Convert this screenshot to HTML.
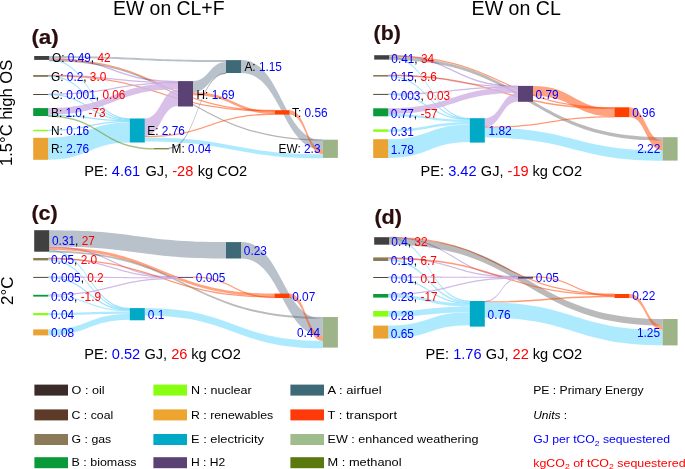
<!DOCTYPE html>
<html><head><meta charset="utf-8"><style>
html,body{margin:0;padding:0;background:#fff;}
body{width:685px;height:469px;overflow:hidden;}
svg{display:block;font-family:"Liberation Sans",sans-serif;will-change:transform;}
</style></head><body>
<svg width="685" height="469" viewBox="0 0 685 469">
<text x="113" y="15.1" font-size="19.4">EW on CL+F</text>
<text x="471.6" y="14.6" font-size="19.6">EW on CL</text>
<text transform="translate(12,166) rotate(-90)" font-size="16.6">1.5°C high OS</text>
<text transform="translate(12.5,305) rotate(-90)" font-size="17">2°C</text>
<g font-weight="bold" font-size="20" fill="#2b0d0d" stroke="#2b0d0d" stroke-width="0.2">
<text x="31.4" y="43.5" textLength="27.4" lengthAdjust="spacingAndGlyphs">(a)</text>
<text x="373.6" y="40.4" textLength="27.2" lengthAdjust="spacingAndGlyphs">(b)</text>
<text x="31.4" y="219.9" textLength="26.4" lengthAdjust="spacingAndGlyphs">(c)</text>
<text x="374.4" y="223.9" textLength="27.6" lengthAdjust="spacingAndGlyphs">(d)</text>
</g>
<path d="M49.20,56.00C137.60,56.00 137.60,60.10 226.00,60.10L226.00,62.10C137.60,62.10 137.60,58.00 49.20,58.00Z" fill="rgba(80,100,122,0.40)"/>
<path d="M49.20,57.85C113.60,57.85 113.60,80.95 178.00,80.95L178.00,82.25C113.60,82.25 113.60,59.15 49.20,59.15Z" fill="rgba(200,170,226,0.85)"/>
<path d="M49.20,58.65C161.90,58.65 161.90,109.85 274.60,109.85L274.60,111.15C161.90,111.15 161.90,59.95 49.20,59.95Z" fill="rgba(255,69,0,0.55)"/>
<path d="M49.20,59.30C89.50,59.30 89.50,118.20 129.80,118.20L129.80,119.50C89.50,119.50 89.50,60.60 49.20,60.60Z" fill="rgba(140,222,252,0.85)"/>
<path d="M49.20,59.90C186.05,59.90 186.05,139.30 322.90,139.30L322.90,140.60C186.05,140.60 186.05,61.20 49.20,61.20Z" fill="rgba(0,0,0,0.30)"/>
<path d="M48.20,74.65C113.10,74.65 113.10,81.75 178.00,81.75L178.00,83.05C113.10,83.05 113.10,75.95 48.20,75.95Z" fill="rgba(200,170,226,0.85)"/>
<path d="M48.20,75.20C161.40,75.20 161.40,110.40 274.60,110.40L274.60,111.70C161.40,111.70 161.40,76.50 48.20,76.50Z" fill="rgba(255,69,0,0.55)"/>
<path d="M48.20,75.80C89.00,75.80 89.00,118.90 129.80,118.90L129.80,120.20C89.00,120.20 89.00,77.10 48.20,77.10Z" fill="rgba(140,222,252,0.85)"/>
<path d="M48.20,93.55C113.10,93.55 113.10,82.25 178.00,82.25L178.00,83.55C113.10,83.55 113.10,94.85 48.20,94.85Z" fill="rgba(200,170,226,0.85)"/>
<path d="M48.20,93.95C89.00,93.95 89.00,119.45 129.80,119.45L129.80,120.75C89.00,120.75 89.00,95.25 48.20,95.25Z" fill="rgba(140,222,252,0.85)"/>
<path d="M48.20,108.10C113.10,108.10 113.10,83.10 178.00,83.10L178.00,89.30C113.10,89.30 113.10,114.70 48.20,114.70Z" fill="rgba(209,181,228,0.85)"/>
<path d="M48.20,114.45C89.00,114.45 89.00,120.05 129.80,120.05L129.80,121.35C89.00,121.35 89.00,115.75 48.20,115.75Z" fill="rgba(140,222,252,0.85)"/>
<path d="M48.20,129.75C89.00,129.75 89.00,121.05 129.80,121.05L129.80,122.35C89.00,122.35 89.00,131.05 48.20,131.05Z" fill="rgba(140,222,252,0.85)"/>
<path d="M48.20,137.80C89.00,137.80 89.00,122.30 129.80,122.30L129.80,142.50C89.00,142.50 89.00,159.80 48.20,159.80Z" fill="rgba(160,230,254,0.85)"/>
<path d="M144.80,118.50C161.40,118.50 161.40,89.30 178.00,89.30L178.00,106.10C161.40,106.10 161.40,136.30 144.80,136.30Z" fill="rgba(209,181,228,0.85)"/>
<path d="M144.80,136.00C209.70,136.00 209.70,113.60 274.60,113.60L274.60,114.90C209.70,114.90 209.70,137.30 144.80,137.30Z" fill="rgba(255,69,0,0.55)"/>
<path d="M144.80,137.60C233.85,137.60 233.85,154.20 322.90,154.20L322.90,158.20C233.85,158.20 233.85,141.60 144.80,141.60Z" fill="rgba(160,230,254,0.85)"/>
<path d="M193.00,81.10C209.50,81.10 209.50,62.10 226.00,62.10L226.00,73.30C209.50,73.30 209.50,92.30 193.00,92.30Z" fill="rgba(80,100,122,0.40)"/>
<path d="M193.00,92.30C233.80,92.30 233.80,111.30 274.60,111.30L274.60,113.90C233.80,113.90 233.80,95.30 193.00,95.30Z" fill="rgba(255,69,0,0.50)"/>
<path d="M169.00,147.50C197.50,147.50 197.50,72.80 226.00,72.80L226.00,74.10C197.50,74.10 197.50,148.80 169.00,148.80Z" fill="rgba(90,105,125,0.6)"/>
<path d="M241.00,60.10C281.95,60.10 281.95,140.20 322.90,140.20L322.90,149.80C281.95,149.80 281.95,72.90 241.00,72.90Z" fill="rgba(80,100,122,0.40)"/>
<path d="M289.60,110.20C306.25,110.20 306.25,149.80 322.90,149.80L322.90,154.20C306.25,154.20 306.25,114.60 289.60,114.60Z" fill="rgba(255,69,0,0.50)"/>
<path d="M48.20,115.50C101.10,115.50 101.10,148.00 154.00,148.00L154.00,149.50C101.10,149.50 101.10,117.00 48.20,117.00Z" fill="rgba(100,140,30,0.55)"/>
<rect x="34.2" y="56.00" width="15" height="3.90" fill="#404040"/>
<rect x="33.2" y="75.00" width="15" height="1.90" fill="#8b7a58"/>
<rect x="33.2" y="94.00" width="15" height="1.00" fill="#524636"/>
<rect x="33.2" y="108.10" width="15" height="7.90" fill="#0a9a3a"/>
<rect x="33.2" y="129.80" width="15" height="1.40" fill="#88ff10"/>
<rect x="33.2" y="137.80" width="15" height="22.00" fill="#eaa232"/>
<rect x="129.8" y="118.50" width="15" height="24.00" fill="#00aac6"/>
<rect x="154" y="148.00" width="15" height="1.40" fill="#7a8c48"/>
<rect x="178" y="81.10" width="15" height="25.40" fill="#5a4274"/>
<rect x="226" y="60.10" width="15" height="12.90" fill="#3e6a78"/>
<rect x="274.6" y="110.20" width="15" height="4.40" fill="#ff4000"/>
<rect x="322.9" y="139.70" width="15" height="18.20" fill="#9cb488"/>
<path d="M389.20,54.85C453.60,54.85 453.60,85.55 518.00,85.55L518.00,86.85C453.60,86.85 453.60,56.15 389.20,56.15Z" fill="rgba(200,170,226,0.85)"/>
<path d="M389.20,55.55C501.80,55.55 501.80,107.05 614.40,107.05L614.40,108.35C501.80,108.35 501.80,56.85 389.20,56.85Z" fill="rgba(255,69,0,0.55)"/>
<path d="M389.20,56.20C429.50,56.20 429.50,117.80 469.80,117.80L469.80,119.10C429.50,119.10 429.50,57.50 389.20,57.50Z" fill="rgba(140,222,252,0.85)"/>
<path d="M389.20,57.10C525.90,57.10 525.90,137.20 662.60,137.20L662.60,140.80C525.90,140.80 525.90,60.10 389.20,60.10Z" fill="rgba(0,0,0,0.27)"/>
<path d="M388.20,74.55C453.10,74.55 453.10,86.05 518.00,86.05L518.00,87.35C453.10,87.35 453.10,75.85 388.20,75.85Z" fill="rgba(200,170,226,0.85)"/>
<path d="M388.20,75.05C501.30,75.05 501.30,107.75 614.40,107.75L614.40,109.05C501.30,109.05 501.30,76.35 388.20,76.35Z" fill="rgba(255,69,0,0.55)"/>
<path d="M388.20,75.65C429.00,75.65 429.00,118.35 469.80,118.35L469.80,119.65C429.00,119.65 429.00,76.95 388.20,76.95Z" fill="rgba(140,222,252,0.85)"/>
<path d="M388.20,93.40C453.10,93.40 453.10,86.40 518.00,86.40L518.00,87.70C453.10,87.70 453.10,94.70 388.20,94.70Z" fill="rgba(200,170,226,0.85)"/>
<path d="M388.20,93.70C429.00,93.70 429.00,118.80 469.80,118.80L469.80,120.10C429.00,120.10 429.00,95.00 388.20,95.00Z" fill="rgba(140,222,252,0.85)"/>
<path d="M388.20,108.30C453.10,108.30 453.10,87.20 518.00,87.20L518.00,92.80C453.10,92.80 453.10,113.90 388.20,113.90Z" fill="rgba(209,181,228,0.85)"/>
<path d="M388.20,113.90C429.00,113.90 429.00,119.60 469.80,119.60L469.80,122.00C429.00,122.00 429.00,116.30 388.20,116.30Z" fill="rgba(160,230,254,0.85)"/>
<path d="M388.20,129.40C429.00,129.40 429.00,122.00 469.80,122.00L469.80,124.40C429.00,124.40 429.00,131.80 388.20,131.80Z" fill="rgba(160,230,254,0.85)"/>
<path d="M388.20,139.20C429.00,139.20 429.00,124.40 469.80,124.40L469.80,142.00C429.00,142.00 429.00,158.00 388.20,158.00Z" fill="rgba(160,230,254,0.85)"/>
<path d="M484.80,118.20C501.40,118.20 501.40,92.80 518.00,92.80L518.00,101.50C501.40,101.50 501.40,126.90 484.80,126.90Z" fill="rgba(209,181,228,0.85)"/>
<path d="M484.80,126.60C549.60,126.60 549.60,116.20 614.40,116.20L614.40,117.50C549.60,117.50 549.60,127.90 484.80,127.90Z" fill="rgba(255,69,0,0.55)"/>
<path d="M484.80,127.60C573.70,127.60 573.70,150.50 662.60,150.50L662.60,160.70C573.70,160.70 573.70,137.60 484.80,137.60Z" fill="rgba(160,230,254,0.85)"/>
<path d="M533.00,85.90C573.70,85.90 573.70,108.70 614.40,108.70L614.40,116.50C573.70,116.50 573.70,95.70 533.00,95.70Z" fill="rgba(255,69,0,0.50)"/>
<path d="M629.40,107.30C646.00,107.30 646.00,140.80 662.60,140.80L662.60,150.50C646.00,150.50 646.00,117.00 629.40,117.00Z" fill="rgba(255,69,0,0.50)"/>
<rect x="374.2" y="55.20" width="15" height="4.40" fill="#404040"/>
<rect x="373.2" y="75.00" width="15" height="1.60" fill="#8b7a58"/>
<rect x="373.2" y="93.90" width="15" height="1.00" fill="#524636"/>
<rect x="373.2" y="108.30" width="15" height="8.00" fill="#0a9a3a"/>
<rect x="373.2" y="129.40" width="15" height="2.40" fill="#88ff10"/>
<rect x="373.2" y="139.20" width="15" height="18.80" fill="#eaa232"/>
<rect x="469.8" y="118.20" width="15" height="24.40" fill="#00aac6"/>
<rect x="518" y="85.90" width="15" height="15.90" fill="#5a4274"/>
<rect x="614.4" y="107.30" width="15" height="9.80" fill="#ff4000"/>
<rect x="662.6" y="137.20" width="15" height="23.40" fill="#9cb488"/>
<path d="M49.20,230.20C137.60,230.20 137.60,242.10 226.00,242.10L226.00,258.50C137.60,258.50 137.60,246.60 49.20,246.60Z" fill="rgba(80,100,122,0.40)"/>
<path d="M49.20,246.20C113.60,246.20 113.60,276.50 178.00,276.50L178.00,277.80C113.60,277.80 113.60,247.50 49.20,247.50Z" fill="rgba(200,170,226,0.85)"/>
<path d="M49.20,247.10C161.80,247.10 161.80,293.60 274.40,293.60L274.40,296.40C161.80,296.40 161.80,249.90 49.20,249.90Z" fill="rgba(255,69,0,0.50)"/>
<path d="M49.20,249.65C89.50,249.65 89.50,307.85 129.80,307.85L129.80,309.15C89.50,309.15 89.50,250.95 49.20,250.95Z" fill="rgba(140,222,252,0.85)"/>
<path d="M49.20,250.70C186.05,250.70 186.05,317.00 322.90,317.00L322.90,318.80C186.05,318.80 186.05,252.50 49.20,252.50Z" fill="rgba(0,0,0,0.27)"/>
<path d="M48.20,257.55C113.10,257.55 113.10,276.95 178.00,276.95L178.00,278.25C113.10,278.25 113.10,258.85 48.20,258.85Z" fill="rgba(200,170,226,0.85)"/>
<path d="M48.20,258.25C161.30,258.25 161.30,296.25 274.40,296.25L274.40,297.55C161.30,297.55 161.30,259.55 48.20,259.55Z" fill="rgba(255,69,0,0.55)"/>
<path d="M48.20,259.25C89.00,259.25 89.00,308.75 129.80,308.75L129.80,310.05C89.00,310.05 89.00,260.55 48.20,260.55Z" fill="rgba(140,222,252,0.85)"/>
<path d="M48.20,276.45C113.10,276.45 113.10,277.35 178.00,277.35L178.00,278.65C113.10,278.65 113.10,277.75 48.20,277.75Z" fill="rgba(200,170,226,0.85)"/>
<path d="M48.20,276.85C89.00,276.85 89.00,309.45 129.80,309.45L129.80,310.75C89.00,310.75 89.00,278.15 48.20,278.15Z" fill="rgba(140,222,252,0.85)"/>
<path d="M48.20,294.40C113.10,294.40 113.10,277.80 178.00,277.80L178.00,279.10C113.10,279.10 113.10,295.70 48.20,295.70Z" fill="rgba(200,170,226,0.85)"/>
<path d="M48.20,295.30C89.00,295.30 89.00,310.30 129.80,310.30L129.80,311.60C89.00,311.60 89.00,296.60 48.20,296.60Z" fill="rgba(160,230,254,0.85)"/>
<path d="M48.20,313.00C89.00,313.00 89.00,311.60 129.80,311.60L129.80,313.80C89.00,313.80 89.00,315.20 48.20,315.20Z" fill="rgba(160,230,254,0.85)"/>
<path d="M48.20,329.40C89.00,329.40 89.00,313.80 129.80,313.80L129.80,319.80C89.00,319.80 89.00,335.40 48.20,335.40Z" fill="rgba(160,230,254,0.85)"/>
<path d="M144.80,308.10C233.85,308.10 233.85,341.00 322.90,341.00L322.90,348.30C233.85,348.30 233.85,315.40 144.80,315.40Z" fill="rgba(160,230,254,0.85)"/>
<path d="M193.00,276.45C233.70,276.45 233.70,296.95 274.40,296.95L274.40,298.25C233.70,298.25 233.70,277.75 193.00,277.75Z" fill="rgba(255,69,0,0.55)"/>
<path d="M241.00,242.10C281.95,242.10 281.95,318.80 322.90,318.80L322.90,335.80C281.95,335.80 281.95,258.50 241.00,258.50Z" fill="rgba(80,100,122,0.40)"/>
<path d="M289.40,293.60C306.15,293.60 306.15,335.80 322.90,335.80L322.90,341.00C306.15,341.00 306.15,298.00 289.40,298.00Z" fill="rgba(255,69,0,0.50)"/>
<rect x="34.2" y="230.20" width="15" height="21.50" fill="#404040"/>
<rect x="33.2" y="258.00" width="15" height="2.40" fill="#8b7a58"/>
<rect x="33.2" y="276.90" width="15" height="1.00" fill="#524636"/>
<rect x="33.2" y="294.80" width="15" height="1.80" fill="#0a9a3a"/>
<rect x="33.2" y="313.00" width="15" height="2.20" fill="#88ff10"/>
<rect x="33.2" y="329.40" width="15" height="6.00" fill="#eaa232"/>
<rect x="129.8" y="308.10" width="15" height="12.20" fill="#00aac6"/>
<rect x="178" y="276.90" width="15" height="1.00" fill="#5a4274"/>
<rect x="226" y="242.10" width="15" height="16.40" fill="#3e6a78"/>
<rect x="274.4" y="293.60" width="15" height="4.40" fill="#ff4000"/>
<rect x="322.9" y="317.00" width="15" height="30.60" fill="#9cb488"/>
<path d="M389.20,236.70C453.60,236.70 453.60,276.10 518.00,276.10L518.00,277.40C453.60,277.40 453.60,238.00 389.20,238.00Z" fill="rgba(200,170,226,0.85)"/>
<path d="M389.20,237.05C501.80,237.05 501.80,293.55 614.40,293.55L614.40,294.85C501.80,294.85 501.80,238.35 389.20,238.35Z" fill="rgba(255,69,0,0.55)"/>
<path d="M389.20,237.40C429.50,237.40 429.50,300.50 469.80,300.50L469.80,301.80C429.50,301.80 429.50,238.70 389.20,238.70Z" fill="rgba(140,222,252,0.85)"/>
<path d="M389.20,238.20C525.90,238.20 525.90,319.00 662.60,319.00L662.60,325.50C525.90,325.50 525.90,244.70 389.20,244.70Z" fill="rgba(0,0,0,0.27)"/>
<path d="M388.20,257.00C453.10,257.00 453.10,276.50 518.00,276.50L518.00,277.80C453.10,277.80 453.10,258.30 388.20,258.30Z" fill="rgba(200,170,226,0.85)"/>
<path d="M388.20,257.85C501.30,257.85 501.30,294.35 614.40,294.35L614.40,295.65C501.30,295.65 501.30,259.15 388.20,259.15Z" fill="rgba(255,69,0,0.55)"/>
<path d="M388.20,259.10C429.00,259.10 429.00,301.30 469.80,301.30L469.80,303.20C429.00,303.20 429.00,261.00 388.20,261.00Z" fill="rgba(160,230,254,0.85)"/>
<path d="M388.20,276.55C453.10,276.55 453.10,276.95 518.00,276.95L518.00,278.25C453.10,278.25 453.10,277.85 388.20,277.85Z" fill="rgba(200,170,226,0.85)"/>
<path d="M388.20,276.95C429.00,276.95 429.00,302.75 469.80,302.75L469.80,304.05C429.00,304.05 429.00,278.25 388.20,278.25Z" fill="rgba(140,222,252,0.85)"/>
<path d="M388.20,293.65C453.10,293.65 453.10,277.45 518.00,277.45L518.00,278.75C453.10,278.75 453.10,294.95 388.20,294.95Z" fill="rgba(200,170,226,0.85)"/>
<path d="M388.20,294.60C429.00,294.60 429.00,303.60 469.80,303.60L469.80,306.60C429.00,306.60 429.00,297.60 388.20,297.60Z" fill="rgba(160,230,254,0.85)"/>
<path d="M388.20,311.00C429.00,311.00 429.00,306.60 469.80,306.60L469.80,312.20C429.00,312.20 429.00,316.60 388.20,316.60Z" fill="rgba(160,230,254,0.85)"/>
<path d="M388.20,325.60C429.00,325.60 429.00,312.20 469.80,312.20L469.80,325.20C429.00,325.20 429.00,338.60 388.20,338.60Z" fill="rgba(160,230,254,0.85)"/>
<path d="M484.80,300.65C501.40,300.65 501.40,278.05 518.00,278.05L518.00,279.35C501.40,279.35 501.40,301.95 484.80,301.95Z" fill="rgba(200,170,226,0.85)"/>
<path d="M484.80,301.25C549.60,301.25 549.60,295.85 614.40,295.85L614.40,297.15C549.60,297.15 549.60,302.55 484.80,302.55Z" fill="rgba(255,69,0,0.55)"/>
<path d="M484.80,302.20C573.70,302.20 573.70,329.90 662.60,329.90L662.60,345.30C573.70,345.30 573.70,317.60 484.80,317.60Z" fill="rgba(160,230,254,0.85)"/>
<path d="M533.00,276.25C573.70,276.25 573.70,295.25 614.40,295.25L614.40,296.55C573.70,296.55 573.70,277.55 533.00,277.55Z" fill="rgba(255,69,0,0.55)"/>
<path d="M629.40,294.00C646.00,294.00 646.00,325.50 662.60,325.50L662.60,329.90C646.00,329.90 646.00,298.00 629.40,298.00Z" fill="rgba(255,69,0,0.50)"/>
<rect x="374.2" y="237.20" width="15" height="7.50" fill="#404040"/>
<rect x="373.2" y="257.40" width="15" height="3.60" fill="#8b7a58"/>
<rect x="373.2" y="277.00" width="15" height="1.00" fill="#524636"/>
<rect x="373.2" y="294.00" width="15" height="3.60" fill="#0a9a3a"/>
<rect x="373.2" y="311.00" width="15" height="5.60" fill="#88ff10"/>
<rect x="373.2" y="325.60" width="15" height="13.00" fill="#eaa232"/>
<rect x="469.8" y="301.00" width="15" height="25.60" fill="#00aac6"/>
<rect x="518" y="276.60" width="15" height="2.00" fill="#5a4274"/>
<rect x="614.4" y="294.00" width="15" height="4.00" fill="#ff4000"/>
<rect x="662.6" y="319.00" width="15" height="26.40" fill="#9cb488"/>
<text x="52" y="62.0" font-size="11.85" text-anchor="start"><tspan fill="#000">O: </tspan><tspan fill="#0000ff">0.49</tspan><tspan fill="#000">, </tspan><tspan fill="#ff0000">42</tspan></text>
<text x="51" y="80.9" font-size="11.85" text-anchor="start"><tspan fill="#000">G: </tspan><tspan fill="#0000ff">0.2</tspan><tspan fill="#000">, </tspan><tspan fill="#ff0000">3.0</tspan></text>
<text x="51" y="99.0" font-size="11.85" text-anchor="start"><tspan fill="#000">C: </tspan><tspan fill="#0000ff">0.001</tspan><tspan fill="#000">, </tspan><tspan fill="#ff0000">0.06</tspan></text>
<text x="51" y="117.2" font-size="11.85" text-anchor="start"><tspan fill="#000">B: </tspan><tspan fill="#0000ff">1.0</tspan><tspan fill="#000">, </tspan><tspan fill="#ff0000">-73</tspan></text>
<text x="51" y="135.3" font-size="11.85" text-anchor="start"><tspan fill="#000">N: </tspan><tspan fill="#0000ff">0.16</tspan></text>
<text x="51" y="153.4" font-size="11.85" text-anchor="start"><tspan fill="#000">R: </tspan><tspan fill="#0000ff">2.76</tspan></text>
<text x="147.3" y="135.2" font-size="11.85" text-anchor="start"><tspan fill="#000">E: </tspan><tspan fill="#0000ff">2.76</tspan></text>
<text x="196.5" y="98.6" font-size="11.85" text-anchor="start"><tspan fill="#000">H: </tspan><tspan fill="#0000ff">1.69</tspan></text>
<text x="244.4" y="71.3" font-size="11.85" text-anchor="start"><tspan fill="#000">A: </tspan><tspan fill="#0000ff">1.15</tspan></text>
<text x="292" y="117.0" font-size="11.85" text-anchor="start"><tspan fill="#000">T: </tspan><tspan fill="#0000ff">0.56</tspan></text>
<text x="171.6" y="153.2" font-size="11.85" text-anchor="start"><tspan fill="#000">M: </tspan><tspan fill="#0000ff">0.04</tspan></text>
<text x="320.5" y="153.4" font-size="11.85" text-anchor="end"><tspan fill="#000">EW: </tspan><tspan fill="#0000ff">2.3</tspan></text>
<text x="84.2" y="176.1" font-size="14.6" text-anchor="start"><tspan fill="#000">PE: </tspan><tspan fill="#0000ff">4.61</tspan><tspan fill="#000" dx="1.2"> GJ, </tspan><tspan fill="#ff0000">-28</tspan><tspan fill="#000" dx="0.3"> kg CO2</tspan></text>
<text x="391.3" y="62.6" font-size="11.85" text-anchor="start"><tspan fill="#0000ff">0.41</tspan><tspan fill="#000">, </tspan><tspan fill="#ff0000">34</tspan></text>
<text x="390.8" y="81.4" font-size="11.85" text-anchor="start"><tspan fill="#0000ff">0.15</tspan><tspan fill="#000">, </tspan><tspan fill="#ff0000">3.6</tspan></text>
<text x="390.8" y="99.9" font-size="11.85" text-anchor="start"><tspan fill="#0000ff">0.003</tspan><tspan fill="#000">, </tspan><tspan fill="#ff0000">0.03</tspan></text>
<text x="390.8" y="117.8" font-size="11.85" text-anchor="start"><tspan fill="#0000ff">0.77</tspan><tspan fill="#000">, </tspan><tspan fill="#ff0000">-57</tspan></text>
<text x="390.8" y="136.3" font-size="11.85" text-anchor="start"><tspan fill="#0000ff">0.31</tspan></text>
<text x="390.8" y="154.2" font-size="11.85" text-anchor="start"><tspan fill="#0000ff">1.78</tspan></text>
<text x="488.5" y="135.1" font-size="11.85" text-anchor="start"><tspan fill="#0000ff">1.82</tspan></text>
<text x="535.5" y="98.6" font-size="11.85" text-anchor="start"><tspan fill="#0000ff">0.79</tspan></text>
<text x="632.2" y="116.5" font-size="11.85" text-anchor="start"><tspan fill="#0000ff">0.96</tspan></text>
<text x="660.3" y="153.0" font-size="11.85" text-anchor="end"><tspan fill="#0000ff">2.22</tspan></text>
<text x="420.6" y="175.7" font-size="14.6" text-anchor="start"><tspan fill="#000">PE: </tspan><tspan fill="#0000ff">3.42</tspan><tspan fill="#000" dx="0.2"> GJ, </tspan><tspan fill="#ff0000">-19</tspan><tspan fill="#000" dx="-0.2"> kg CO2</tspan></text>
<text x="52" y="245.3" font-size="11.85" text-anchor="start"><tspan fill="#0000ff">0.31</tspan><tspan fill="#000">, </tspan><tspan fill="#ff0000">27</tspan></text>
<text x="51" y="264.0" font-size="11.85" text-anchor="start"><tspan fill="#0000ff">0.05</tspan><tspan fill="#000">, </tspan><tspan fill="#ff0000">2.0</tspan></text>
<text x="51" y="282.3" font-size="11.85" text-anchor="start"><tspan fill="#0000ff">0.005</tspan><tspan fill="#000">, </tspan><tspan fill="#ff0000">0.2</tspan></text>
<text x="51" y="300.5" font-size="11.85" text-anchor="start"><tspan fill="#0000ff">0.03</tspan><tspan fill="#000">, </tspan><tspan fill="#ff0000">-1.9</tspan></text>
<text x="51" y="318.9" font-size="11.85" text-anchor="start"><tspan fill="#0000ff">0.04</tspan></text>
<text x="51" y="337.2" font-size="11.85" text-anchor="start"><tspan fill="#0000ff">0.08</tspan></text>
<text x="147.8" y="318.8" font-size="11.85" text-anchor="start"><tspan fill="#0000ff">0.1</tspan></text>
<text x="195.8" y="282.2" font-size="11.85" text-anchor="start"><tspan fill="#0000ff">0.005</tspan></text>
<text x="243.8" y="255.0" font-size="11.85" text-anchor="start"><tspan fill="#0000ff">0.23</tspan></text>
<text x="292.2" y="300.6" font-size="11.85" text-anchor="start"><tspan fill="#0000ff">0.07</tspan></text>
<text x="320.0" y="337.1" font-size="11.85" text-anchor="end"><tspan fill="#0000ff">0.44</tspan></text>
<text x="84.2" y="359.0" font-size="14.6" text-anchor="start"><tspan fill="#000">PE: </tspan><tspan fill="#0000ff">0.52</tspan><tspan fill="#000" dx="0.2"> GJ, </tspan><tspan fill="#ff0000">26</tspan><tspan fill="#000" dx="-0.2"> kg CO2</tspan></text>
<text x="391.3" y="245.8" font-size="11.85" text-anchor="start"><tspan fill="#0000ff">0.4</tspan><tspan fill="#000">, </tspan><tspan fill="#ff0000">32</tspan></text>
<text x="390.8" y="264.8" font-size="11.85" text-anchor="start"><tspan fill="#0000ff">0.19</tspan><tspan fill="#000">, </tspan><tspan fill="#ff0000">6.7</tspan></text>
<text x="390.8" y="283.2" font-size="11.85" text-anchor="start"><tspan fill="#0000ff">0.01</tspan><tspan fill="#000">, </tspan><tspan fill="#ff0000">0.1</tspan></text>
<text x="390.8" y="301.4" font-size="11.85" text-anchor="start"><tspan fill="#0000ff">0.23</tspan><tspan fill="#000">, </tspan><tspan fill="#ff0000">-17</tspan></text>
<text x="390.8" y="319.5" font-size="11.85" text-anchor="start"><tspan fill="#0000ff">0.28</tspan></text>
<text x="390.8" y="337.7" font-size="11.85" text-anchor="start"><tspan fill="#0000ff">0.65</tspan></text>
<text x="487.6" y="318.8" font-size="11.85" text-anchor="start"><tspan fill="#0000ff">0.76</tspan></text>
<text x="535.8" y="282.4" font-size="11.85" text-anchor="start"><tspan fill="#0000ff">0.05</tspan></text>
<text x="632.2" y="300.2" font-size="11.85" text-anchor="start"><tspan fill="#0000ff">0.22</tspan></text>
<text x="660.0" y="337.1" font-size="11.85" text-anchor="end"><tspan fill="#0000ff">1.25</tspan></text>
<text x="425.6" y="359.0" font-size="14.6" text-anchor="start"><tspan fill="#000">PE: </tspan><tspan fill="#0000ff">1.76</tspan><tspan fill="#000" dx="0.2"> GJ, </tspan><tspan fill="#ff0000">22</tspan><tspan fill="#000" dx="-0.2"> kg CO2</tspan></text>
<rect x="34.4" y="384.6" width="33.6" height="11" fill="#3b2b28"/>
<text x="71.6" y="394.4" font-size="11.5" textLength="33.0" lengthAdjust="spacingAndGlyphs">O : oil</text>
<rect x="34.4" y="409.4" width="33.6" height="11" fill="#5e3a28"/>
<text x="71.6" y="419.0" font-size="11.5" textLength="41.6" lengthAdjust="spacingAndGlyphs">C : coal</text>
<rect x="34.4" y="434.0" width="33.6" height="11" fill="#8b7a58"/>
<text x="71.6" y="443.4" font-size="11.5" textLength="39.6" lengthAdjust="spacingAndGlyphs">G : gas</text>
<rect x="34.4" y="457.2" width="33.6" height="11" fill="#0a9a3a"/>
<text x="71.6" y="465.8" font-size="11.5" textLength="65.0" lengthAdjust="spacingAndGlyphs">B : biomass</text>
<rect x="153.4" y="384.6" width="33.6" height="11" fill="#88ff10"/>
<text x="191.0" y="394.4" font-size="11.5" textLength="60.6" lengthAdjust="spacingAndGlyphs">N : nuclear</text>
<rect x="153.4" y="409.4" width="33.6" height="11" fill="#eea530"/>
<text x="191.0" y="419.0" font-size="11.5" textLength="82.19999999999999" lengthAdjust="spacingAndGlyphs">R : renewables</text>
<rect x="153.4" y="434.0" width="33.6" height="11" fill="#00aac6"/>
<text x="191.0" y="443.4" font-size="11.5" textLength="73.0" lengthAdjust="spacingAndGlyphs">E : electricity</text>
<rect x="153.4" y="457.2" width="33.6" height="11" fill="#5a4274"/>
<text x="191.0" y="465.8" font-size="11.5" textLength="34.2" lengthAdjust="spacingAndGlyphs">H : H2</text>
<rect x="290.4" y="384.6" width="33.6" height="11" fill="#3e6a78"/>
<text x="327.6" y="394.4" font-size="11.5" textLength="54.0" lengthAdjust="spacingAndGlyphs">A : airfuel</text>
<rect x="290.4" y="409.4" width="33.6" height="11" fill="#ff3a0a"/>
<text x="327.6" y="419.0" font-size="11.5" textLength="69.39999999999999" lengthAdjust="spacingAndGlyphs">T : transport</text>
<rect x="290.4" y="434.0" width="33.6" height="11" fill="#9fbc8c"/>
<text x="327.6" y="443.4" font-size="11.5" textLength="151.0" lengthAdjust="spacingAndGlyphs">EW : enhanced weathering</text>
<rect x="290.4" y="457.2" width="33.6" height="11" fill="#5a7a10"/>
<text x="327.6" y="465.8" font-size="11.5" textLength="74.0" lengthAdjust="spacingAndGlyphs">M : methanol</text>
<text x="533.2" y="394.2" font-size="11.5" textLength="110.4" lengthAdjust="spacingAndGlyphs">PE : Primary Energy</text>
<text x="533.2" y="419" font-size="11.5" textLength="34" lengthAdjust="spacingAndGlyphs"><tspan font-style="italic">Units</tspan> :</text>
<text x="533.2" y="443.2" font-size="11.5" fill="#0000ff" textLength="136.8" lengthAdjust="spacingAndGlyphs">GJ per tCO<tspan font-size="8" dy="2.5">2</tspan><tspan dy="-2.5"> sequestered</tspan></text>
<text x="533.2" y="466.6" font-size="11.5" fill="#ff0000" textLength="152.4" lengthAdjust="spacingAndGlyphs">kgCO<tspan font-size="8" dy="2.5">2</tspan><tspan dy="-2.5"> of tCO</tspan><tspan font-size="8" dy="2.5">2</tspan><tspan dy="-2.5"> sequestered</tspan></text>
</svg>
</body></html>
